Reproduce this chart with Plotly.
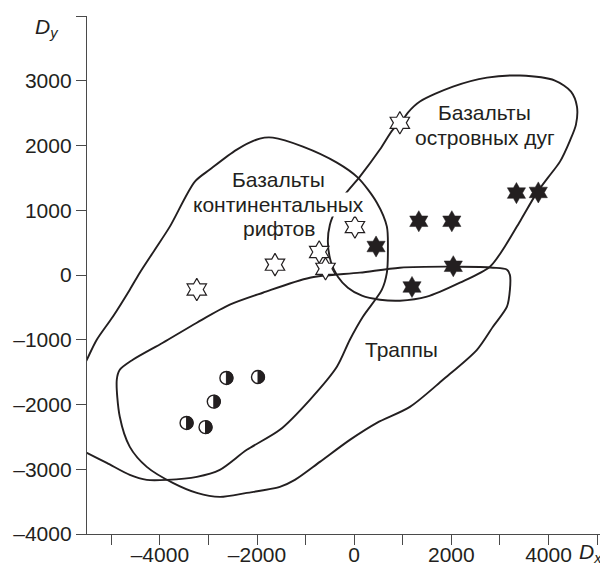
import plotly.graph_objects as go

# ---- data ----
open_star_x = [-3240, -1630, -720, -590, 15, 940]
open_star_y = [-225, 160, 355, 95, 740, 2350]

filled_star_x = [450, 1190, 1330, 2010, 2040, 3340, 3790]
filled_star_y = [440, -185, 830, 830, 135, 1265, 1275]

half_x = [-2630, -1980, -2890, -3450, -3060]
half_y = [-1590, -1575, -1955, -2285, -2350]

# field outlines
rift_x = [-5710, -5504, -5299, -4969, -4619, -4413, -4104, -3795, -3280, -2972, -2416, -1942,
          -1674, -1056, -356, 76, 467, 673, 694, 673, 570, 179, -89, -356, -912, -1530,
          -2210, -2766, -3239, -3857, -4269, -4619, -5093, -5504, -5855]
rift_y = [-1618, -1309, -1000, -645, -227, 36, 391, 747, 1442, 1628, 1937, 2107,
          2122, 1983, 1736, 1504, 1117, 747, 391, 36, -227, -645, -1000, -1417, -1927, -2391,
          -2700, -3009, -3117, -3164, -3164, -3087, -2901, -2747, -2620]

trap_x = [-4825, -4557, -3939, -3239, -2560, -1880, -912, 117, 941, 2177, 2856, 3145, 3206,
          3206, 3145, 2856, 2527, 1827, 1147, 467, -89, -706, -1221, -1530, -2210, -2766,
          -3239, -3734, -4269, -4619, -4825, -4887, -4825]
trap_y = [-1464, -1309, -1046, -737, -459, -274, -42, 36, 113, 128, 113, 82, 0,
          -227, -490, -799, -1155, -1618, -2036, -2283, -2546, -2886, -3164, -3272, -3365, -3427,
          -3365, -3210, -2963, -2654, -2190, -1618, -1464]

arc_x = [962, 797, 529, 117, -192, -377, -500, -542, -480, -336, -130, 159, 529, 941, 1497,
         2177, 2794, 3124, 3433, 3762, 3989, 4236, 4442, 4565, 4586, 4463, 4133, 3412, 2733,
         2033, 1353, 1106, 962]
arc_y = [2354, 2246, 1937, 1519, 1241, 1009, 777, 515, 206, -26, -196, -320, -382, -397, -335,
         -119, 128, 468, 855, 1272, 1504, 1751, 2076, 2323, 2601, 2833, 3003, 3080, 3049,
         2910, 2679, 2509, 2354]

x_tickvals = [-4000, -2000, 0, 2000, 4000]
x_ticktext = ["–4000", "–2000", "0", "2000", "4000"]
y_tickvals = [-4000, -3000, -2000, -1000, 0, 1000, 2000, 3000]
y_ticktext = ["–4000", "–3000", "–2000", "–1000", "0", "1000", "2000", "3000"]

INK = "#231f20"
AXC = "#4a4a4a"
FS = 21

fig = go.Figure()
for cx, cy in [(rift_x, rift_y), (trap_x, trap_y), (arc_x, arc_y)]:
    fig.add_trace(go.Scatter(x=cx, y=cy, mode="lines",
                             line=dict(color=INK, width=1.9, shape="spline", smoothing=0.8),
                             hoverinfo="skip"))

fig.add_trace(go.Scatter(x=open_star_x, y=open_star_y, mode="markers",
                         marker=dict(symbol="hexagram", size=17, color="white",
                                     line=dict(color=INK, width=1.2))))
fig.add_trace(go.Scatter(x=filled_star_x, y=filled_star_y, mode="markers",
                         marker=dict(symbol="hexagram", size=16, color=INK,
                                     line=dict(color=INK, width=0.5))))

# half-filled circle symbols: pixel-sized shapes anchored at the data points
R = 6.5
K = 0.5523 * R
full_circle = (f"M {R} 0 C {R} {K} {K} {R} 0 {R} C {-K} {R} {-R} {K} {-R} 0 "
               f"C {-R} {-K} {-K} {-R} 0 {-R} C {K} {-R} {R} {-K} {R} 0 Z")
right_half = f"M 0 {-R} C {K} {-R} {R} {-K} {R} 0 C {R} {K} {K} {R} 0 {R} Z"
for hx, hy in zip(half_x, half_y):
    fig.add_shape(type="path", xref="x", yref="y", xsizemode="pixel", ysizemode="pixel",
                  xanchor=hx, yanchor=hy, path=full_circle, fillcolor="white",
                  line=dict(color=INK, width=1.4), layer="above")
    fig.add_shape(type="path", xref="x", yref="y", xsizemode="pixel", ysizemode="pixel",
                  xanchor=hx, yanchor=hy, path=right_half, fillcolor=INK,
                  line=dict(color=INK, width=1.0), layer="above")

def label(txt, x, y, bg=None):
    fig.add_annotation(x=x, y=y, xref="x", yref="y", text=txt, showarrow=False,
                       xanchor="center", yanchor="middle",
                       bgcolor=bg if bg else "rgba(0,0,0,0)", borderpad=0,
                       font=dict(size=FS, color=INK))

label("Базальты", -1560, 1473, "white")
label("континентальных", -1560, 1087, "white")
label("рифтов", -1540, 716, "white")
label("Базальты", 2692, 2508)
label("островных дуг", 2692, 2122)
label("Траппы", 982, -1155)

fig.add_annotation(xref="paper", yref="paper", x=(47 - 87) / 513, y=(534 - 28) / 518,
                   xanchor="center", yanchor="middle", showarrow=False,
                   text="<i>D</i><sub><i>y</i></sub>", font=dict(size=FS, color=INK))
fig.add_annotation(xref="paper", yref="paper", x=(577 - 87) / 513, y=(534 - 553) / 518,
                   xanchor="left", yanchor="middle", showarrow=False,
                   text="<i>D</i><sub><i>x</i></sub>", font=dict(size=FS, color=INK))

axis_common = dict(showline=True, linecolor=AXC, linewidth=1.3, ticks="outside", ticklen=10,
                   tickcolor=AXC, tickwidth=1.3, showgrid=False, zeroline=False,
                   automargin=False, tickfont=dict(size=FS, color=INK),
                   minor=dict(ticks="outside", ticklen=10, tickcolor=AXC, tickwidth=1.3,
                              dtick=1000, tick0=0, showgrid=False))
fig.update_xaxes(range=[-5500, 5060], tickvals=x_tickvals, ticktext=x_ticktext,
                 ticklabelstandoff=-8, **axis_common)
fig.update_yaxes(range=[-4000, 4000], tickvals=y_tickvals, ticktext=y_ticktext, **axis_common)

fig.update_layout(width=600, height=573, margin=dict(l=87, r=0, t=16, b=39),
                  plot_bgcolor="white", paper_bgcolor="white", showlegend=False,
                  font=dict(family="Liberation Sans, Arial, sans-serif", size=FS, color=INK))

fig.write_html("out.html", config={"displayModeBar": False},
               post_script="document.body.style.margin='0px';"
                           "document.body.style.overflow='hidden';"
                           "document.documentElement.style.overflow='hidden';")
